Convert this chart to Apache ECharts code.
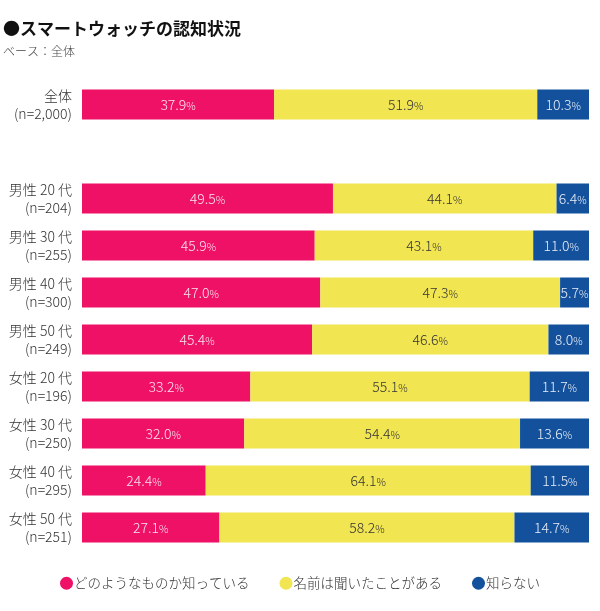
<!DOCTYPE html>
<html><head><meta charset="utf-8">
<script src="https://cdn.jsdelivr.net/npm/echarts@6/dist/echarts.min.js"></script>
<style>html,body{margin:0;padding:0;background:#fff}#c{width:600px;height:611px}</style>
</head><body><div id="c"></div>
<script>
const categories = ['全体\n(n=2,000)', '', '男性 20 代\n(n=204)', '男性 30 代\n(n=255)', '男性 40 代\n(n=300)', '男性 50 代\n(n=249)', '女性 20 代\n(n=196)', '女性 30 代\n(n=250)', '女性 40 代\n(n=295)', '女性 50 代\n(n=251)'];
const seriesNames = ['どのようなものか知っている', '名前は聞いたことがある', '知らない'];
const knowWell = [37.9, null, 49.5, 45.9, 47.0, 45.4, 33.2, 32.0, 24.4, 27.1];
const heardName = [51.9, null, 44.1, 43.1, 47.3, 46.6, 55.1, 54.4, 64.1, 58.2];
const dontKnow = [10.3, null, 6.4, 11.0, 5.7, 8.0, 11.7, 13.6, 11.5, 14.7];
const colors = ['#EE1166', '#F2E552', '#13519C'];
const labelColors = ['#fbe3ee', '#333333', '#e8eef8'];
const FONT = '"Noto Sans CJK JP", "Noto Sans", sans-serif';

const chart = echarts.init(document.getElementById('c'));
const data = [knowWell, heardName, dontKnow];
chart.setOption({
  animation: false,
  title: {
    text: '●スマートウォッチの認知状況',
    subtext: 'ベース：全体',
    left: -2, top: 15, itemGap: 8,
    textStyle: { fontFamily: FONT, fontSize: 17, fontWeight: 'bold', color: '#111' },
    subtextStyle: { fontFamily: FONT, fontSize: 12, color: '#444', fontWeight: 300 }
  },
  legend: {
    bottom: 16, left: 'center', icon: 'circle', itemWidth: 13, itemHeight: 13, itemGap: 30,
    textStyle: { fontFamily: FONT, fontSize: 13.5, color: '#333', fontWeight: 300, padding: [0,0,0,-4] },
    data: seriesNames
  },
  grid: { left: 82, right: 11, top: 81, bottom: 60, containLabel: false },
  xAxis: { type: 'value', min: 0, max: 100, show: false },
  yAxis: {
    type: 'category', inverse: true, data: categories,
    axisLine: { show: false }, axisTick: { show: false },
    axisLabel: { fontFamily: FONT, fontSize: 14, color: '#333', fontWeight: 300, lineHeight: 18, margin: 10, align: 'right' }
  },
  series: seriesNames.map((n, i) => ({
    name: n, type: 'bar', stack: 'a', barWidth: 30,
    itemStyle: { color: colors[i] },
    data: data[i],
    label: {
      show: true, position: 'inside',
      formatter: p => p.value == null ? '' : '{v|' + p.value.toFixed(1) + '}{p|%}',
      rich: {
        v: { fontFamily: FONT, fontSize: 14, fontWeight: 300, color: labelColors[i] },
        p: { fontFamily: FONT, fontSize: 10.5, fontWeight: 300, color: labelColors[i], padding: [3,0,0,0] }
      }
    }
  }))
});
</script></body></html>
